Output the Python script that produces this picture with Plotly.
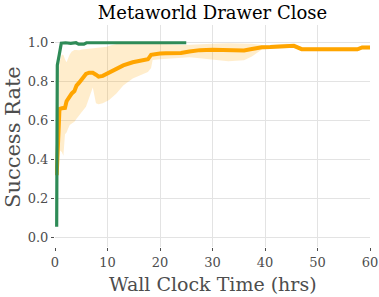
import plotly.graph_objects as go

# Orange series (mean with shaded band)
x_orange = [0.32, 0.85, 1.3, 1.6, 1.9, 2.2, 2.5, 2.8, 3.2, 3.7, 4.1, 4.6, 5.1, 5.9, 6.5,
            7.0, 7.2, 7.8, 8.3, 9.1, 9.9, 10.3, 11.7, 13.0, 14.8, 16.2, 17.7, 18.3, 18.6, 20.0,
            21.1, 24.0, 25.6, 27.6, 30.0, 33.0, 36.0, 37.5, 39.4, 41.0, 44.0, 45.5, 47.0, 49.5, 52.0,
            55.0, 57.6, 58.5, 60.0]
mean_orange = [0.32, 0.66, 0.664, 0.664, 0.666, 0.70, 0.715, 0.725, 0.74, 0.752, 0.78, 0.795, 0.81, 0.84, 0.846,
               0.848, 0.846, 0.836, 0.826, 0.83, 0.84, 0.846, 0.868, 0.884, 0.90, 0.908, 0.915, 0.938, 0.94, 0.945,
               0.946, 0.947, 0.955, 0.962, 0.964, 0.962, 0.96, 0.968, 0.977, 0.978, 0.985, 0.984, 0.967, 0.966, 0.968,
               0.964, 0.966, 0.976, 0.976]
upper_orange = [0.45, 0.90, 0.94, 0.937, 0.915, 0.90, 0.92, 0.94, 0.955, 0.963, 0.963, 0.962, 0.965, 0.967, 0.968,
                0.97, 0.97, 0.972, 0.975, 0.978, 0.98, 0.985, 0.993, 0.996, 0.997, 0.997, 0.997, 0.996, 0.996, 0.995,
                0.993, 0.99, 0.99, 0.993, 0.995, 0.997, 0.998, 0.995, 0.988, 0.988, 0.995, 0.994, 0.977, 0.976, 0.977,
                0.974, 0.976, 0.986, 0.986]
lower_orange = [0.20, 0.45, 0.44, 0.42, 0.53, 0.54, 0.56, 0.578, 0.585, 0.595, 0.61, 0.63, 0.645, 0.672, 0.72,
                0.76, 0.77, 0.69, 0.685, 0.69, 0.70, 0.706, 0.74, 0.78, 0.817, 0.835, 0.85, 0.87, 0.911, 0.915,
                0.917, 0.922, 0.925, 0.92, 0.915, 0.905, 0.91, 0.93, 0.965, 0.968, 0.975, 0.974, 0.957, 0.956, 0.958,
                0.954, 0.956, 0.966, 0.966]

# Green series
x_green = [0.32, 0.36, 0.44, 0.8, 1.2, 2.0, 3.0, 4.0, 4.5, 5.5, 6.0, 8.0, 10.0, 15.0, 20.0, 25.0]
y_green = [0.056, 0.70, 0.885, 0.937, 0.998, 1.0, 0.997, 1.0, 0.993, 0.993, 1.0, 1.0, 1.0, 1.0, 1.0, 1.0]

x_ticks = [0, 10, 20, 30, 40, 50, 60]
y_ticks = [0.0, 0.2, 0.4, 0.6, 0.8, 1.0]

ORANGE = "#FFA500"
GREEN = "#2E8B57"
BAND = "rgba(255,165,0,0.2)"
TXT = "#4d4d4d"
SERIF = "DejaVu Serif, serif"

fig = go.Figure()
fig.add_trace(go.Scatter(x=x_orange, y=lower_orange, mode="lines", line=dict(width=0),
                         showlegend=False, hoverinfo="skip"))
fig.add_trace(go.Scatter(x=x_orange, y=upper_orange, mode="lines", line=dict(width=0),
                         fill="tonexty", fillcolor=BAND, showlegend=False, hoverinfo="skip"))
fig.add_trace(go.Scatter(x=x_orange, y=mean_orange, mode="lines",
                         line=dict(color=ORANGE, width=4), showlegend=False))
fig.add_trace(go.Scatter(x=x_green, y=y_green, mode="lines",
                         line=dict(color=GREEN, width=3.2), showlegend=False))

fig.update_layout(
    width=379, height=297,
    margin=dict(l=55, r=9, t=25, b=50),
    paper_bgcolor="white", plot_bgcolor="white",
    font=dict(family=SERIF, color=TXT),
    title=dict(text="Metaworld Drawer Close", x=0.5, xref="paper", xanchor="center",
               y=1 - 12.5 / 297, yref="container", yanchor="middle",
               font=dict(family=SERIF, size=18, color="black")),
    showlegend=False,
)
fig.update_xaxes(
    range=[0, 60], tickvals=x_ticks, ticktext=[str(v) for v in x_ticks],
    showgrid=True, gridcolor="#e3e3e3", gridwidth=1, zeroline=False,
    ticks="outside", ticklen=3, tickcolor=TXT, tickwidth=1,
    tickfont=dict(family=SERIF, size=13, color=TXT),
    automargin=False, showline=False,
)
fig.update_yaxes(
    range=[-0.048, 1.091], tickvals=y_ticks, ticktext=["%.1f" % v for v in y_ticks],
    showgrid=True, gridcolor="#e3e3e3", gridwidth=1, zeroline=False,
    ticks="outside", ticklen=3, tickcolor=TXT, tickwidth=1,
    tickfont=dict(family=SERIF, size=13, color=TXT),
    automargin=False, showline=False,
)
fig.add_annotation(text="Wall Clock Time (hrs)", xref="paper", yref="paper",
                   x=0.5, y=(247 - 284) / 222, xanchor="center", yanchor="middle",
                   showarrow=False, font=dict(family=SERIF, size=19, color=TXT))
fig.add_annotation(text="Success Rate", xref="paper", yref="paper",
                   x=(13 - 55) / 315, y=(247 - 137) / 222, xanchor="center", yanchor="middle",
                   textangle=-90, showarrow=False, font=dict(family=SERIF, size=21, color=TXT))

fig.write_html("out.html", config={"displayModeBar": False},
               post_script="document.body.style.margin='0';")
